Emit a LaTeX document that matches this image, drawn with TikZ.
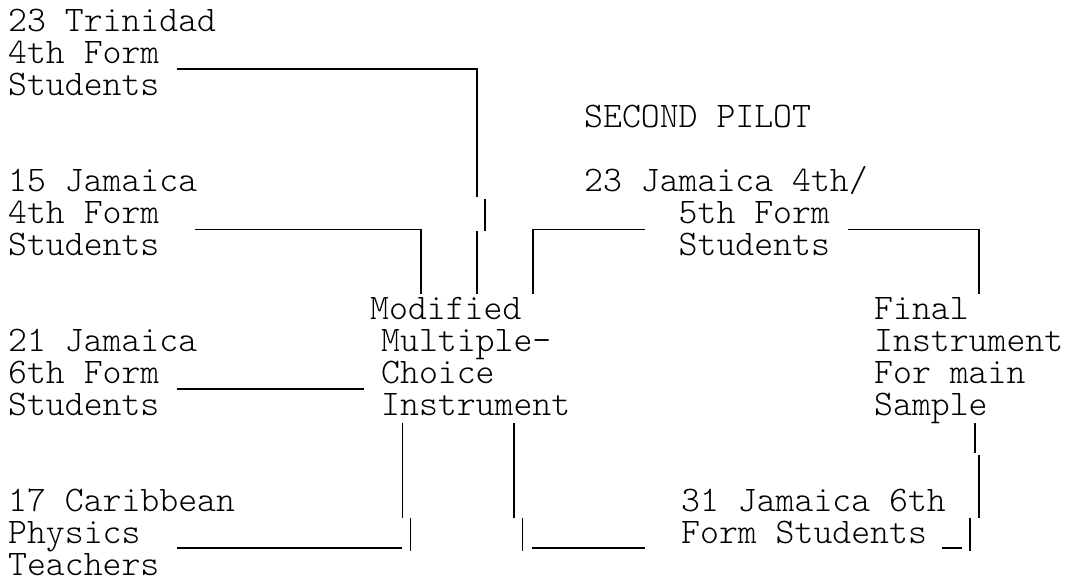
\documentclass[tikz,border=0pt]{standalone}
\usepackage{tikz}
\usetikzlibrary{positioning, calc}

\newcommand{\typewr}{\ttfamily\fontseries{l}\fontsize{36}{32}\selectfont\lineskiplimit=-50pt}
\newcommand{\tp}{\rule{0pt}{27pt}}

\begin{document}
\begin{tikzpicture}[
  x=1pt, y=-1pt,
  txt/.style  = {anchor=north west, inner sep=0pt, align=left, font=\typewr},
  wire/.style = {line width=1.2pt, draw=black}
]
\useasboundingbox (0,0) rectangle (1065,580);

% first pilot groups
\node[txt] (trin)  at (8,4.5)   {\tp 23 Trinidad\\4th Form\\Students};
\node[txt] (jam15) at (8,164.5) {\tp 15 Jamaica\\4th Form\\Students};
\node[txt] (jam21) at (8,324.5) {\tp 21 Jamaica\\6th Form\\Students};
\node[txt] (carib) at (8,484.5) {\tp 17 Caribbean\\Physics\\Teachers};

\node[txt] (mci) at (381,292.5)
  {\tp\hspace*{-11pt}Modified\\Multiple-\\Choice\\Instrument};

% second pilot
\node[txt] (pilot) at (584,100.5) {\tp SECOND PILOT};
\node[txt] (jam23) at (584,164.5) {\tp 23 Jamaica 4th/\\~~~~~5th Form\\~~~~~Students};
\node[txt] (jam31) at (681,484.5) {\tp 31 Jamaica 6th\\Form Students};

\node[txt] (final) at (874,292.5) {\tp Final\\Instrument\\For main\\Sample};

% connector ends
\coordinate (trin-a)  at (176.7,69);
\coordinate (trin-b)  at (477,197);
\coordinate (trin-c)  at (485,199);
\coordinate (trin-d)  at (485,231);
\coordinate (trin-e)  at (477,231);
\coordinate (trin-f)  at (477,294);
\coordinate (jam15-a) at (195,229.5);
\coordinate (jam15-b) at (421,294);
\coordinate (jam23-a) at (644.5,229.5);
\coordinate (jam23-b) at (533,294);
\coordinate (jam23-c) at (848,229.5);
\coordinate (jam23-d) at (979,294);
\coordinate (jam21-a) at (176.7,389);
\coordinate (jam21-b) at (364,389);
\coordinate (carib-a) at (176.7,548);
\coordinate (carib-b) at (402,548);
\coordinate (jam31-a) at (532,548);
\coordinate (jam31-b) at (644.5,548);
\coordinate (jam31-c) at (942,548);
\coordinate (jam31-d) at (962,548);

\draw[wire] (trin-a) -| (trin-b);
\draw[wire] (trin-c) -- (trin-d);
\draw[wire] (trin-e) -- (trin-f);
\draw[wire] (jam15-a) -| (jam15-b);
\draw[wire] (jam23-a) -| (jam23-b);
\draw[wire] (jam23-c) -| (jam23-d);
\draw[wire] (jam21-a) -- (jam21-b);

% below the instruments
\draw[wire] (402.5,423) -- (402.5,518);
\draw[wire] (410.5,518) -- (410.5,551);
\draw[wire] (carib-a) -- (carib-b);
\draw[wire] (514,423) -- (514,518);
\draw[wire] (522.5,518) -- (522.5,551);
\draw[wire] (jam31-a) -- (jam31-b);
\draw[wire] (975,423) -- (975,453);
\draw[wire] (979,455) -- (979,518);
\draw[wire] (970,518) -- (970,551);
\draw[wire] (jam31-c) -- (jam31-d);

\end{tikzpicture}
\end{document}
